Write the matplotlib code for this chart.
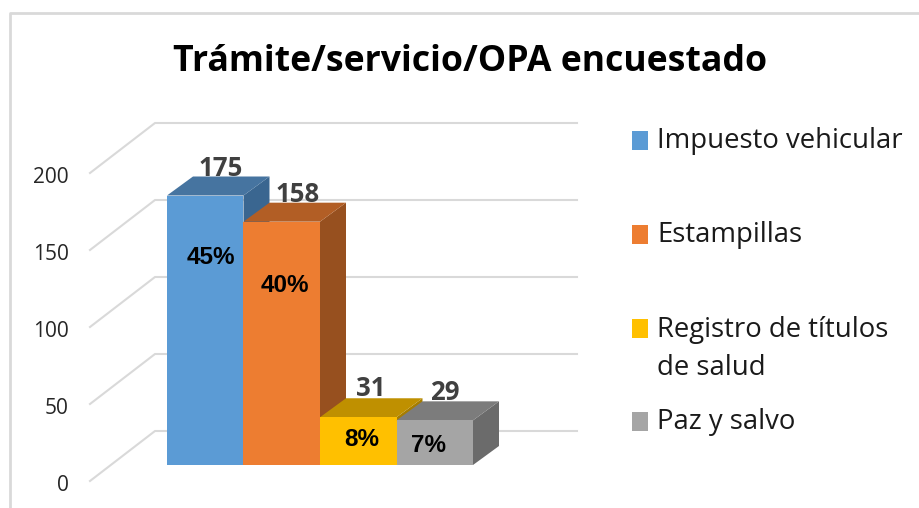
import matplotlib
matplotlib.use('Agg')
import matplotlib.pyplot as plt
from matplotlib.patches import Polygon, Rectangle

categories = ['Impuesto vehicular', 'Estampillas', 'Registro de títulos\nde salud', 'Paz y salvo']
values = [175, 158, 31, 29]
shares = ['45%', '40%', '8%', '7%']
y_ticks = [0, 50, 100, 150, 200]

front_colors = ['#5B9BD5', '#ED7D31', '#FFC000', '#A5A5A5']
top_colors = ['#4674A0', '#B25E25', '#BF9000', '#7C7C7C']
side_colors = ['#3A6690', '#97501F', '#A67D00', '#6B6B6B']

W, H = 920, 508
BAR_PX = 76.5   # one category in pixels
VAL_PX = 1.54   # one unit of value in pixels
X0_PX, Y0_PX = 167, 465   # corner of the first bar
DX = 26 / BAR_PX
DY = 19 / VAL_PX


def px(x, y):
    # figure pixels to data coords
    return (x - X0_PX) / BAR_PX, (Y0_PX - y) / VAL_PX


fig = plt.figure(figsize=(W / 100, H / 100), dpi=100)
ax = fig.add_axes([0, 0, 1, 1])
ax.set_xlim(px(0, 0)[0], px(W, 0)[0])
ax.set_ylim(px(0, H)[1], px(0, 0)[1])
ax.axis('off')

# chart frame
ax.plot(*zip(px(9.5, H), px(9.5, 12.5), px(W, 12.5)), color='#D9D9D9', lw=2, zorder=1)

# walls
for v in y_ticks[1:] + [0]:
    xa, ya = px(90, 481 - v * VAL_PX)
    xb, yb = px(155, 431 - v * VAL_PX)
    xc, _ = px(577, 0)
    ax.plot([xa, xb, xc], [ya, yb, yb], color='#D9D9D9', lw=1.5, zorder=1)
    ax.text(*px(69, 485.5 - v * VAL_PX), str(v), ha='right', va='center',
            fontsize=15, color='#262626', family='Open Sans')

# bars, back to front
for i, v in enumerate(values):
    ax.add_patch(Polygon([(i + 1, 0), (i + 1 + DX, DY), (i + 1 + DX, v + DY), (i + 1, v)],
                         fc=side_colors[i], ec='none', zorder=3 + i))
    ax.add_patch(Polygon([(i, v), (i + DX, v + DY), (i + 1 + DX, v + DY), (i + 1, v)],
                         fc=top_colors[i], ec='none', zorder=3 + i))
    ax.add_patch(Rectangle((i, 0), 1, v, fc=front_colors[i], ec='none', zorder=3 + i))

# value labels
label_px = [(221, 168), (298, 194), (371, 389), (445, 392)]
for v, (x, y) in zip(values, label_px):
    ax.text(*px(x, y), str(v), ha='center', va='center', fontsize=18.5, fontweight='bold',
            color='#404040', family='Open Sans', zorder=10)

# percentages
share_px = [(211, 258), (285, 286), (362, 439), (428, 445)]
for s, (x, y) in zip(shares, share_px):
    ax.text(*px(x, y), s, ha='center', va='center', fontsize=17.5, fontweight='bold',
            color='black', family='Liberation Sans', zorder=10)

ax.text(*px(470, 62), 'Trámite/servicio/OPA encuestado', ha='center', va='center',
        fontsize=25.7, fontweight='bold', color='black', family='Open Sans')

# legend
legend_y = [141, 235, 329, 422]
text_y = [141, 235, 349, 422]
for name, c, y, ty in zip(categories, front_colors, legend_y, text_y):
    x0, y0 = px(632, y + 9)
    ax.add_patch(Rectangle((x0, y0), 16 / BAR_PX, 19 / VAL_PX, fc=c, ec='none'))
    ax.text(*px(657, ty), name, ha='left', va='center', fontsize=19.8,
            color='#1A1A1A', family='Open Sans', linespacing=1.46)

fig.savefig('out.png', dpi=100)
